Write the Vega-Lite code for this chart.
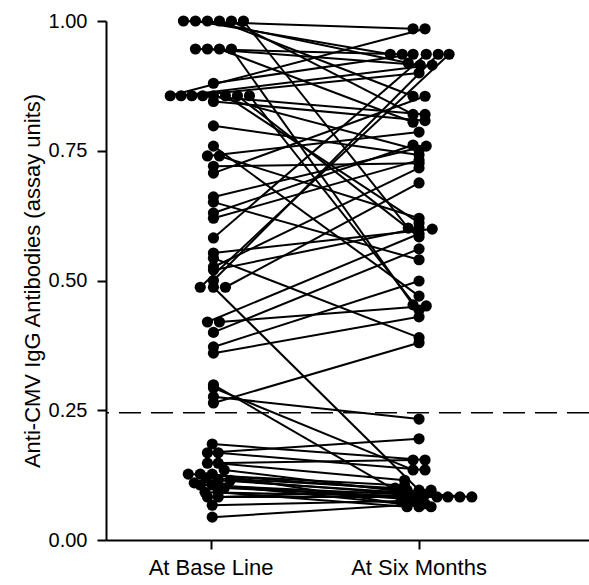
{
  "$schema": "https://vega.github.io/schema/vega-lite/v6.json",
  "width": 483,
  "height": 519,
  "autosize": {"type": "none"},
  "padding": {"left": 106, "top": 21, "right": 0, "bottom": 44},
  "background": "white",
  "config": {
    "view": {"stroke": null},
    "font": "Liberation Sans",
    "axis": {"grid": false, "domainColor": "black", "tickColor": "black", "labelColor": "black", "titleColor": "black", "domainWidth": 2, "tickWidth": 2, "labelFont": "Liberation Sans", "titleFont": "Liberation Sans"}
  },
  "layer": [
    {
      "data": {"values": [{"cutoff": 0.245}]},
      "mark": {"type": "rule", "strokeDash": [22, 10], "strokeWidth": 1.5, "color": "black"},
      "encoding": {"y": {"field": "cutoff", "type": "quantitative", "scale": {"domain": [0, 1]}}}
    },
    {
      "data": {"name": "pairs"},
      "mark": {"type": "line", "color": "black", "strokeWidth": 2},
      "encoding": {
        "x": {"field": "time", "type": "nominal", "scale": {"type": "band", "domain": ["At Base Line", "At Six Months"], "paddingInner": 1, "paddingOuter": 0.661, "align": 0.382}, "axis": {"title": null, "labelAngle": 0, "labelFontSize": 22, "labelPadding": 8, "tickSize": 9, "bandPosition": 0}},
        "xOffset": {"field": "slot", "type": "quantitative", "scale": {"domain": [-1, 1], "range": [-12, 12]}},
        "y": {"field": "value", "type": "quantitative", "scale": {"domain": [0, 1]}, "axis": {"values": [0, 0.25, 0.5, 0.75, 1], "format": ".2f", "labelFontSize": 20, "tickSize": 9, "labelPadding": 10, "title": "Anti-CMV IgG Antibodies (assay units)", "titleFontSize": 22, "titleFontWeight": "normal", "titlePadding": 4}},
        "detail": {"field": "subject", "type": "nominal"}
      }
    },
    {
      "data": {"name": "pairs"},
      "mark": {"type": "circle", "color": "black", "opacity": 1, "size": 125},
      "encoding": {
        "x": {"field": "time", "type": "nominal"},
        "xOffset": {"field": "slot", "type": "quantitative"},
        "y": {"field": "value", "type": "quantitative"}
      }
    }
  ],
  "datasets": {
    "pairs": [
      {"subject":1,"time":"At Base Line","slot":-2.3,"value":1.0},{"subject":1,"time":"At Six Months","slot":-0.5,"value":0.985},
      {"subject":2,"time":"At Base Line","slot":-1.3,"value":1.0},{"subject":2,"time":"At Six Months","slot":-2.4,"value":0.936},
      {"subject":3,"time":"At Base Line","slot":-0.3,"value":1.0},{"subject":3,"time":"At Six Months","slot":-0.9,"value":0.919},
      {"subject":4,"time":"At Base Line","slot":0.7,"value":1.0},{"subject":4,"time":"At Six Months","slot":-0.5,"value":0.855},
      {"subject":5,"time":"At Base Line","slot":1.7,"value":1.0},{"subject":5,"time":"At Six Months","slot":-0.5,"value":0.82},
      {"subject":6,"time":"At Base Line","slot":2.7,"value":1.0},{"subject":6,"time":"At Six Months","slot":-0.9,"value":0.601},
      {"subject":7,"time":"At Base Line","slot":-1.3,"value":0.946},{"subject":7,"time":"At Six Months","slot":-1.4,"value":0.936},
      {"subject":8,"time":"At Base Line","slot":-0.3,"value":0.946},{"subject":8,"time":"At Six Months","slot":0.1,"value":0.915},
      {"subject":9,"time":"At Base Line","slot":0.7,"value":0.946},{"subject":9,"time":"At Six Months","slot":-0.5,"value":0.805},
      {"subject":10,"time":"At Base Line","slot":1.7,"value":0.946},{"subject":10,"time":"At Six Months","slot":-0.5,"value":0.453},
      {"subject":11,"time":"At Base Line","slot":0.2,"value":0.88},{"subject":11,"time":"At Six Months","slot":-0.5,"value":0.936},
      {"subject":12,"time":"At Base Line","slot":-3.4,"value":0.856},{"subject":12,"time":"At Six Months","slot":0.5,"value":0.985},
      {"subject":13,"time":"At Base Line","slot":-2.5,"value":0.856},{"subject":13,"time":"At Six Months","slot":1.1,"value":0.915},
      {"subject":14,"time":"At Base Line","slot":-1.6,"value":0.856},{"subject":14,"time":"At Six Months","slot":0,"value":0.9},
      {"subject":15,"time":"At Base Line","slot":-0.7,"value":0.856},{"subject":15,"time":"At Six Months","slot":0.5,"value":0.82},
      {"subject":16,"time":"At Base Line","slot":0.2,"value":0.856},{"subject":16,"time":"At Six Months","slot":0,"value":0.751},
      {"subject":17,"time":"At Base Line","slot":1.2,"value":0.856},{"subject":17,"time":"At Six Months","slot":0,"value":0.611},
      {"subject":18,"time":"At Base Line","slot":2.2,"value":0.856},{"subject":18,"time":"At Six Months","slot":0,"value":0.584},
      {"subject":19,"time":"At Base Line","slot":3.2,"value":0.856},{"subject":19,"time":"At Six Months","slot":0,"value":0.443},
      {"subject":20,"time":"At Base Line","slot":0.2,"value":0.845},{"subject":20,"time":"At Six Months","slot":0.5,"value":0.808},
      {"subject":21,"time":"At Base Line","slot":0.2,"value":0.798},{"subject":21,"time":"At Six Months","slot":0,"value":0.742},
      {"subject":22,"time":"At Base Line","slot":0.2,"value":0.759},{"subject":22,"time":"At Six Months","slot":0,"value":0.47},
      {"subject":23,"time":"At Base Line","slot":-0.3,"value":0.74},{"subject":23,"time":"At Six Months","slot":0,"value":0.786},
      {"subject":24,"time":"At Base Line","slot":0.7,"value":0.74},{"subject":24,"time":"At Six Months","slot":0,"value":0.62},
      {"subject":25,"time":"At Base Line","slot":0.2,"value":0.72},{"subject":25,"time":"At Six Months","slot":0,"value":0.726},
      {"subject":26,"time":"At Base Line","slot":0.2,"value":0.707},{"subject":26,"time":"At Six Months","slot":0.5,"value":0.855},
      {"subject":27,"time":"At Base Line","slot":0.2,"value":0.661},{"subject":27,"time":"At Six Months","slot":0.6,"value":0.759},
      {"subject":28,"time":"At Base Line","slot":0.2,"value":0.651},{"subject":28,"time":"At Six Months","slot":0,"value":0.54},
      {"subject":29,"time":"At Base Line","slot":0.2,"value":0.63},{"subject":29,"time":"At Six Months","slot":-0.5,"value":0.761},
      {"subject":30,"time":"At Base Line","slot":0.2,"value":0.62},{"subject":30,"time":"At Six Months","slot":0,"value":0.732},
      {"subject":31,"time":"At Base Line","slot":0.2,"value":0.582},{"subject":31,"time":"At Six Months","slot":0.6,"value":0.936},
      {"subject":32,"time":"At Base Line","slot":0.2,"value":0.553},{"subject":32,"time":"At Six Months","slot":1.1,"value":0.599},
      {"subject":33,"time":"At Base Line","slot":0.2,"value":0.543},{"subject":33,"time":"At Six Months","slot":0,"value":0.39},
      {"subject":34,"time":"At Base Line","slot":0.2,"value":0.526},{"subject":34,"time":"At Six Months","slot":0,"value":0.717},
      {"subject":35,"time":"At Base Line","slot":0.2,"value":0.52},{"subject":35,"time":"At Six Months","slot":0,"value":0.601},
      {"subject":36,"time":"At Base Line","slot":0.2,"value":0.5},{"subject":36,"time":"At Six Months","slot":1.6,"value":0.936},
      {"subject":37,"time":"At Base Line","slot":-0.9,"value":0.487},{"subject":37,"time":"At Six Months","slot":2.5,"value":0.936},
      {"subject":38,"time":"At Base Line","slot":0.2,"value":0.487},{"subject":38,"time":"At Six Months","slot":0,"value":0.096},
      {"subject":39,"time":"At Base Line","slot":1.2,"value":0.487},{"subject":39,"time":"At Six Months","slot":0,"value":0.688},
      {"subject":40,"time":"At Base Line","slot":-0.3,"value":0.42},{"subject":40,"time":"At Six Months","slot":0,"value":0.59},
      {"subject":41,"time":"At Base Line","slot":0.7,"value":0.42},{"subject":41,"time":"At Six Months","slot":0.6,"value":0.451},
      {"subject":42,"time":"At Base Line","slot":0.2,"value":0.4},{"subject":42,"time":"At Six Months","slot":0,"value":0.561},
      {"subject":43,"time":"At Base Line","slot":0.2,"value":0.372},{"subject":43,"time":"At Six Months","slot":0,"value":0.499},
      {"subject":44,"time":"At Base Line","slot":0.2,"value":0.36},{"subject":44,"time":"At Six Months","slot":0,"value":0.43},
      {"subject":45,"time":"At Base Line","slot":0.2,"value":0.299},{"subject":45,"time":"At Six Months","slot":-1,"value":0.083},
      {"subject":46,"time":"At Base Line","slot":0.2,"value":0.293},{"subject":46,"time":"At Six Months","slot":-0.5,"value":0.135},
      {"subject":47,"time":"At Base Line","slot":0.2,"value":0.276},{"subject":47,"time":"At Six Months","slot":0,"value":0.233},
      {"subject":48,"time":"At Base Line","slot":0.2,"value":0.264},{"subject":48,"time":"At Six Months","slot":0,"value":0.38},
      {"subject":49,"time":"At Base Line","slot":0.1,"value":0.185},{"subject":49,"time":"At Six Months","slot":0.5,"value":0.154},
      {"subject":50,"time":"At Base Line","slot":-0.3,"value":0.168},{"subject":50,"time":"At Six Months","slot":0,"value":0.195},
      {"subject":51,"time":"At Base Line","slot":0.6,"value":0.168},{"subject":51,"time":"At Six Months","slot":0.5,"value":0.135},
      {"subject":52,"time":"At Base Line","slot":-0.3,"value":0.148},{"subject":52,"time":"At Six Months","slot":-0.5,"value":0.154},
      {"subject":53,"time":"At Base Line","slot":0.6,"value":0.148},{"subject":53,"time":"At Six Months","slot":-1.2,"value":0.115},
      {"subject":54,"time":"At Base Line","slot":-1.9,"value":0.127},{"subject":54,"time":"At Six Months","slot":-1.2,"value":0.105},
      {"subject":55,"time":"At Base Line","slot":-0.9,"value":0.127},{"subject":55,"time":"At Six Months","slot":-1,"value":0.096},
      {"subject":56,"time":"At Base Line","slot":0.1,"value":0.127},{"subject":56,"time":"At Six Months","slot":0,"value":0.064},
      {"subject":57,"time":"At Base Line","slot":0.6,"value":0.115},{"subject":57,"time":"At Six Months","slot":4.4,"value":0.083},
      {"subject":58,"time":"At Base Line","slot":1.6,"value":0.115},{"subject":58,"time":"At Six Months","slot":-1.7,"value":0.09},
      {"subject":59,"time":"At Base Line","slot":-0.9,"value":0.106},{"subject":59,"time":"At Six Months","slot":3.4,"value":0.083},
      {"subject":60,"time":"At Base Line","slot":0.1,"value":0.106},{"subject":60,"time":"At Six Months","slot":-0.5,"value":0.078},
      {"subject":61,"time":"At Base Line","slot":-0.5,"value":0.092},{"subject":61,"time":"At Six Months","slot":2.4,"value":0.083},
      {"subject":62,"time":"At Base Line","slot":0.6,"value":0.092},{"subject":62,"time":"At Six Months","slot":-1,"value":0.064},
      {"subject":63,"time":"At Base Line","slot":-0.3,"value":0.083},{"subject":63,"time":"At Six Months","slot":1.5,"value":0.083},
      {"subject":64,"time":"At Base Line","slot":0.6,"value":0.083},{"subject":64,"time":"At Six Months","slot":1,"value":0.096},
      {"subject":65,"time":"At Base Line","slot":0.1,"value":0.067},{"subject":65,"time":"At Six Months","slot":-1.5,"value":0.075},
      {"subject":66,"time":"At Base Line","slot":0.1,"value":0.044},{"subject":66,"time":"At Six Months","slot":0.5,"value":0.07},
      {"subject":67,"time":"At Base Line","slot":-0.4,"value":0.12},{"subject":67,"time":"At Six Months","slot":-2,"value":0.1},
      {"subject":68,"time":"At Base Line","slot":1.1,"value":0.1},{"subject":68,"time":"At Six Months","slot":0,"value":0.083},
      {"subject":69,"time":"At Base Line","slot":1.1,"value":0.135},{"subject":69,"time":"At Six Months","slot":0.5,"value":0.088},
      {"subject":70,"time":"At Base Line","slot":-1.4,"value":0.11},{"subject":70,"time":"At Six Months","slot":1,"value":0.064}
    ]
  }
}
